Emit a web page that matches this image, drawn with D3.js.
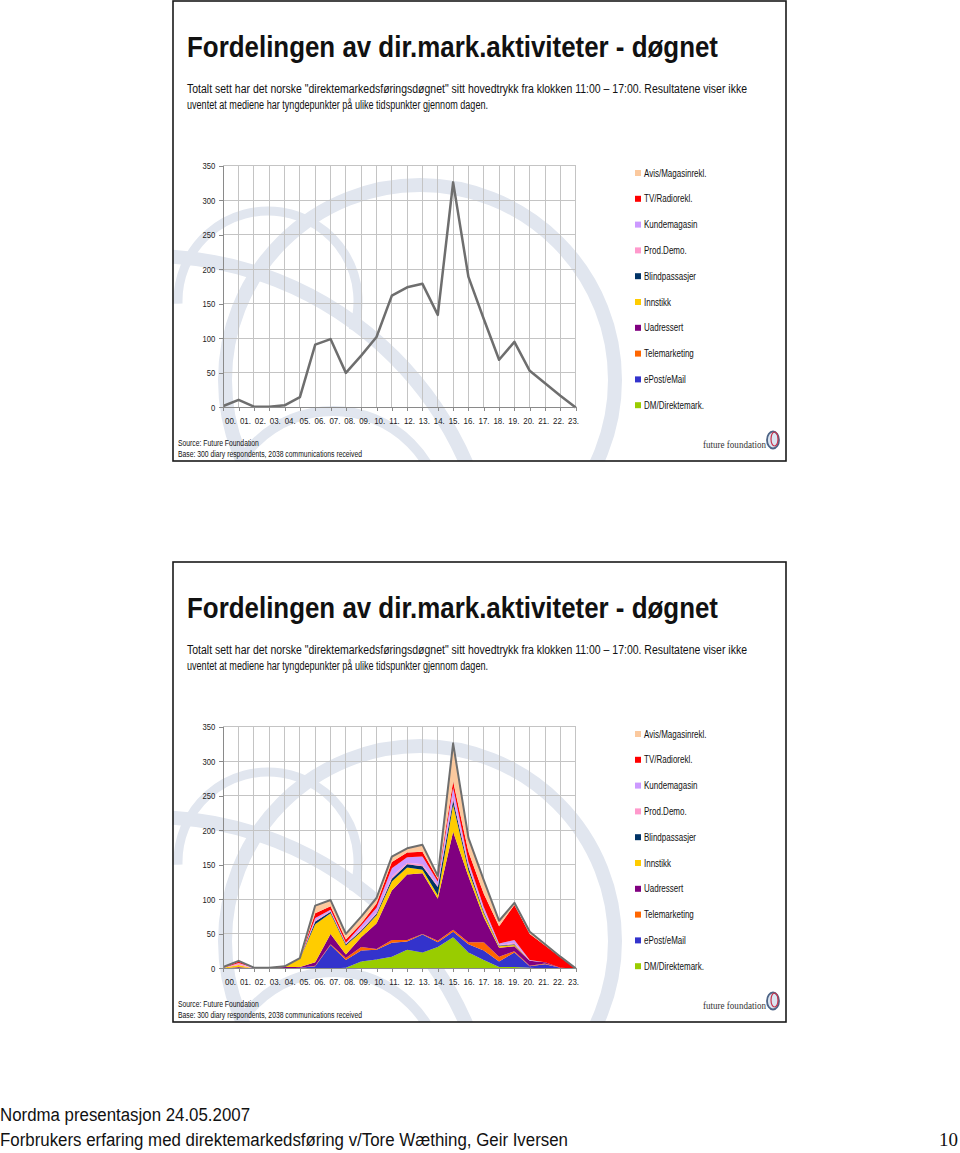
<!DOCTYPE html>
<html lang="no">
<head>
<meta charset="UTF-8">
<title>Fordelingen av dir.mark.aktiviteter - døgnet</title>
<style>
body { margin: 0; background: #fff; }
svg text { font-family: "Liberation Sans", Arial, sans-serif; fill: #111; }
.axis path, .axis line { fill: none; stroke: #8a8a8a; shape-rendering: crispEdges; }
.axis text { font-size: 9px; fill: #222; }
.grid line { stroke: #c4c4c4; shape-rendering: crispEdges; }
</style>
</head>
<body>
<script src="https://cdn.jsdelivr.net/npm/d3@7"></script>
<script>
// tick labels
let hours = ['00.', '01.', '02.', '03.', '04.', '05.', '06.', '07.', '08.', '09.', '10.', '11.',
    '12.', '13.', '14.', '15.', '16.', '17.', '18.', '19.', '20.', '21.', '22.', '23.'];
let yTicks = [0, 50, 100, 150, 200, 250, 300, 350];

// total per hour (top chart)
let totals = [2, 11, 1, 1, 3, 15, 91, 99, 50, 75, 102, 162, 174, 179, 134, 326, 189, 128, 69, 95, 53, 35, 17, 0];

// stacked series, bottom to top
let seriesNames = ['DM/Direktemark.', 'ePost/eMail', 'Telemarketing', 'Uadressert', 'Innstikk',
    'Blindpassasjer', 'Prod.Demo.', 'Kundemagasin', 'TV/Radiorekl.', 'Avis/Magasinrekl.'];
let seriesColors = ['#99cc00', '#3333cc', '#ff6600', '#800080', '#ffcc00',
    '#003366', '#ff99cc', '#cc99ff', '#ff0000', '#fbc99e'];

let dm         = [0, 1, 0, 0, 0, 0, 0, 0, 1, 10, 13, 17, 27, 23, 31, 45, 23, 12, 2, 2, 1, 0, 0, 0];
let epost      = [0, 0, 0, 0, 0, 1, 3, 34, 11, 16, 14, 20, 12, 26, 7, 8, 12, 14, 8, 21, 2, 6, 1, 0];
let tele       = [0, 0, 0, 0, 0, 0, 1, 1, 3, 5, 1, 4, 2, 1, 2, 3, 3, 12, 7, 2, 1, 1, 0, 0];
let uadressert = [0, 1, 0, 1, 2, 1, 5, 15, 5, 14, 37, 72, 95, 88, 61, 142, 95, 36, 13, 7, 7, 2, 0, 0];
let innstikk   = [1, 3, 0, 0, 1, 12, 55, 30, 13, 8, 12, 13, 10, 5, 5, 39, 9, 6, 2, 2, 0, 0, 0, 0];
let blind      = [0, 0, 0, 0, 0, 0, 4, 2, 2, 2, 2, 4, 5, 5, 12, 7, 5, 2, 1, 1, 0, 0, 0, 0];
let proddemo   = [0, 3, 0, 0, 0, 0, 2, 1, 1, 2, 2, 3, 2, 3, 2, 5, 3, 2, 1, 2, 0, 0, 0, 0];
let kunde      = [0, 0, 1, 0, 0, 0, 3, 2, 1, 5, 7, 12, 8, 11, 6, 13, 5, 5, 2, 4, 1, 0, 0, 0];
let tvradio    = [0, 2, 0, 0, 0, 0, 7, 5, 5, 3, 6, 9, 7, 7, 4, 9, 14, 19, 25, 51, 38, 24, 15, 0];
let avis       = [1, 1, 0, 0, 0, 1, 11, 9, 8, 10, 8, 8, 6, 10, 4, 55, 20, 20, 8, 3, 3, 2, 1, 0];

let seriesValues = [dm, epost, tele, uadressert, innstikk, blind, proddemo, kunde, tvradio, avis];

let table = hours.map((h, i) => {
    let row = {hour: h};
    seriesNames.forEach((name, k) => row[name] = seriesValues[k][i]);
    return row;
});

let svg = d3.select('body').append('svg')
    .attr('width', 960)
    .attr('height', 1153);
let defs = svg.append('defs');

let slideW = 613, slideH = 460;

let x = d3.scalePoint().domain(hours).range([50.3, 402.7]);
let xLabel = d3.scalePoint().domain(hours).range([57, 400]);
let y = d3.scaleLinear().domain([0, 350]).range([406.4, 164.8]);

// squeeze text to look like a narrow face
function narrow(sel, k) {
    sel.each(function() {
        let w = this.getComputedTextLength();
        d3.select(this).attr('textLength', w * k).attr('lengthAdjust', 'spacingAndGlyphs');
    });
}

function drawSlide(top, id, stacked) {
    let g = svg.append('g').attr('transform', `translate(173,${top})`);

    defs.append('clipPath').attr('id', 'clip' + id)
        .append('rect').attr('width', slideW).attr('height', slideH);

    g.append('rect').attr('width', slideW).attr('height', slideH).attr('fill', '#fff');

    // watermark rings
    let wm = g.append('g')
        .attr('clip-path', `url(#clip${id})`)
        .attr('fill', 'none')
        .attr('stroke', '#e1e6ef');
    wm.append('circle').attr('cx', 247).attr('cy', 379).attr('r', 195).attr('stroke-width', 14);
    wm.append('circle').attr('cx', -23).attr('cy', 600).attr('r', 345).attr('stroke-width', 14);
    wm.append('path')
        .attr('transform', 'translate(95,300)')
        .attr('stroke-width', 9)
        .attr('d', d3.arc().innerRadius(90).outerRadius(90).startAngle(-1.6).endAngle(1.9)());
    wm.append('circle').attr('cx', 160).attr('cy', 520).attr('r', 110).attr('stroke-width', 10);

    // title + text
    g.append('text')
        .attr('x', 14).attr('y', 56)
        .attr('font-size', 30).attr('font-weight', 'bold')
        .attr('textLength', 531).attr('lengthAdjust', 'spacingAndGlyphs')
        .text('Fordelingen av dir.mark.aktiviteter - døgnet');
    g.append('text')
        .attr('x', 14).attr('y', 92).attr('font-size', 12.5)
        .attr('textLength', 560).attr('lengthAdjust', 'spacingAndGlyphs')
        .text('Totalt sett har det norske "direktemarkedsføringsdøgnet" sitt hovedtrykk fra klokken 11:00 \u2013 17:00. Resultatene viser ikke');
    g.append('text')
        .attr('x', 14).attr('y', 108).attr('font-size', 12.5)
        .attr('textLength', 301).attr('lengthAdjust', 'spacingAndGlyphs')
        .text('uventet at mediene har tyngdepunkter på ulike tidspunkter gjennom dagen.');

    // grid
    let grid = g.append('g').attr('class', 'grid');
    grid.selectAll('.v').data(hours).enter().append('line')
        .attr('x1', d => x(d)).attr('x2', d => x(d))
        .attr('y1', y(0)).attr('y2', y(350));
    grid.selectAll('.h').data(yTicks.slice(1)).enter().append('line')
        .attr('x1', x.range()[0]).attr('x2', x.range()[1])
        .attr('y1', d => y(d)).attr('y2', d => y(d));

    if (stacked) {
        let series = d3.stack().keys(seriesNames)(table);
        let area = d3.area()
            .x((d, i) => x(hours[i]))
            .y0(d => y(d[0]))
            .y1(d => y(d[1]));
        g.selectAll('.layer').data(series).enter().append('path')
            .attr('class', 'layer')
            .attr('fill', (d, i) => seriesColors[i])
            .attr('d', area);
    }

    let line = d3.line().x((d, i) => x(hours[i])).y(d => y(d));
    g.append('path')
        .attr('fill', 'none')
        .attr('stroke', '#6e6e6e')
        .attr('stroke-width', stacked ? 2 : 2.5)
        .attr('stroke-linejoin', 'round')
        .attr('d', line(totals));

    // axes
    let yAxis = g.append('g').attr('class', 'axis')
        .attr('transform', `translate(${x.range()[0]},0)`)
        .call(d3.axisLeft(y).tickValues(yTicks).tickSize(4).tickPadding(4));
    narrow(yAxis.selectAll('text'), 0.85);

    g.append('g').attr('class', 'axis')
        .attr('transform', `translate(0,${y(0)})`)
        .call(d3.axisBottom(x).tickSize(4).tickFormat(''));
    let xl = g.append('g').attr('class', 'axis')
        .attr('transform', `translate(0,${y(0)})`)
        .call(d3.axisBottom(xLabel).tickSize(0).tickPadding(10));
    xl.select('.domain').remove();
    narrow(xl.selectAll('text'), 0.88);

    // legend
    let legendNames = seriesNames.slice().reverse();
    let legendColors = seriesColors.slice().reverse();
    let lg = g.selectAll('.leg').data(legendNames).enter().append('g')
        .attr('class', 'leg')
        .attr('transform', (d, i) => `translate(462,${172 + i * 25.8})`);
    lg.append('rect')
        .attr('x', 0).attr('y', -3).attr('width', 6).attr('height', 6)
        .attr('fill', (d, i) => legendColors[i]);
    let lt = lg.append('text')
        .attr('x', 9).attr('y', 3.5)
        .attr('font-size', 10)
        .text(d => d);
    narrow(lt, 0.8);

    // source
    let s1 = g.append('text').attr('x', 5).attr('y', 445).attr('font-size', 8.5)
        .text('Source: Future Foundation');
    let s2 = g.append('text').attr('x', 5).attr('y', 456).attr('font-size', 8.5)
        .text('Base:  300 diary respondents, 2038 communications received');
    narrow(s1, 0.8);
    narrow(s2, 0.8);

    // logo
    g.append('text')
        .attr('x', 530).attr('y', 447)
        .attr('font-size', 10.5)
        .attr('textLength', 63).attr('lengthAdjust', 'spacingAndGlyphs')
        .style('font-family', '"Liberation Serif", serif')
        .style('fill', '#333')
        .text('future foundation');
    g.append('ellipse').attr('cx', 600).attr('cy', 439).attr('rx', 6).attr('ry', 8.5)
        .attr('fill', '#dbe6f2').attr('stroke', '#4d6486').attr('stroke-width', 1.8);
    g.append('ellipse').attr('cx', 601.5).attr('cy', 438).attr('rx', 3.5).attr('ry', 7)
        .attr('fill', 'none').attr('stroke', '#c8324a').attr('stroke-width', 1.2);

    g.append('rect')
        .attr('width', slideW).attr('height', slideH)
        .attr('fill', 'none').attr('stroke', '#1a1a1a').attr('stroke-width', 1.6);
}

drawSlide(1, 'a', false);
drawSlide(562, 'b', true);

// footer
svg.append('text').attr('x', 0).attr('y', 1121).attr('font-size', 18)
    .attr('textLength', 250).attr('lengthAdjust', 'spacingAndGlyphs')
    .text('Nordma presentasjon 24.05.2007');
svg.append('text').attr('x', 0).attr('y', 1146).attr('font-size', 18)
    .attr('textLength', 568).attr('lengthAdjust', 'spacingAndGlyphs')
    .text('Forbrukers erfaring med direktemarkedsføring v/Tore Wæthing, Geir Iversen');
svg.append('text').attr('x', 958).attr('y', 1146).attr('font-size', 19)
    .attr('text-anchor', 'end')
    .style('font-family', '"Liberation Serif", serif')
    .text('10');
</script>
</body>
</html>
